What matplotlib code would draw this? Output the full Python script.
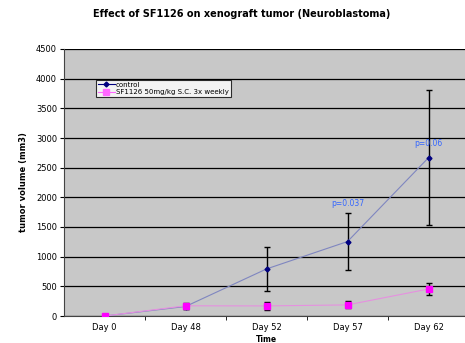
import matplotlib.pyplot as plt

days = ["Day 0", "Day 48", "Day 52", "Day 57", "Day 62"]
control = [0, 160, 793, 1255, 2668]
control_err = [0, 50, 365, 475, 1140]
sf1126 = [0, 172, 170, 187, 455]
sf1126_err = [0, 55, 62, 58, 104]
pvals = ["", "", "", "p=0.037", "p=0.06"]

fig = plt.figure(figsize=(4.65, 3.43), dpi=100)
ax = fig.add_axes([64 / 465, 1 - 316 / 343, 405 / 465, 267 / 343])
ax.set_facecolor("#C8C8C8")

x = list(range(len(days)))

ax.errorbar(x[1:], control[1:], yerr=control_err[1:], fmt="none", ecolor="black",
            elinewidth=1, capsize=2.5, capthick=1, zorder=3)
ax.errorbar(x[1:], sf1126[1:], yerr=sf1126_err[1:], fmt="none", ecolor="black",
            elinewidth=1, capsize=2.5, capthick=1, zorder=3)
ax.plot(x, control, color="#7F86C0", lw=0.8, zorder=4)
ax.plot(x, control, ls="none", marker="D", ms=2.5, color="#000080", zorder=5,
        label="control")
ax.plot(x, sf1126, color="#E690E0", lw=0.8, zorder=4)
ax.plot(x, sf1126, ls="none", marker="s", ms=4.5, color="#FF00FF", zorder=5,
        label="SF1126 50mg/kg S.C. 3x weekly")

# p-value labels above the control points
for i, p in enumerate(pvals):
    if p:
        off = 160 if control_err[i] < 800 else -900
        ax.text(x[i], control[i] + control_err[i] + off, p, color="#3366FF",
                fontsize=5.5, ha="center", va="center")

ax.set_xlim(-0.5, 4.5)
ax.set_ylim(0, 4500)
ax.set_yticks(range(0, 4501, 500))
ax.set_xticks(x)
ax.set_xticklabels(days, fontsize=6)
ax.set_xticks([0.5, 1.5, 2.5, 3.5], minor=True)
ax.tick_params(axis="x", which="major", length=0, pad=5)
ax.tick_params(axis="x", which="minor", length=3, direction="out")
ax.tick_params(axis="y", labelsize=6, length=3, pad=2)
ax.grid(axis="y", color="black", lw=0.9)
ax.set_axisbelow(True)
for s in ["top", "right"]:
    ax.spines[s].set_visible(False)
ax.spines["left"].set_color("#444444")
ax.spines["bottom"].set_color("#444444")

ax.set_ylabel("tumor volume (mm3)", fontsize=6, fontweight="bold", labelpad=6)
ax.set_xlabel("Time", fontsize=5.5, fontweight="bold")
ax.xaxis.set_label_coords(0.5, -0.073)
fig.suptitle("Effect of SF1126 on xenograft tumor (Neuroblastoma)", fontsize=7,
             fontweight="bold", x=0.52, y=0.975)

leg = ax.legend(loc="upper left", bbox_to_anchor=(0.078, 0.885), fontsize=5,
                frameon=True, fancybox=False, edgecolor="black", borderpad=0.3,
                labelspacing=0.2, handlelength=2.5, handletextpad=0.1,
                borderaxespad=0)
leg.get_frame().set_linewidth(0.8)
for h in leg.legend_handles:
    h.set_linestyle("-")
    h.set_linewidth(0.8)
leg.legend_handles[0].set_color("#000080")
leg.legend_handles[1].set_color("#FF66FF")

fig.savefig("out.png", dpi=100)
